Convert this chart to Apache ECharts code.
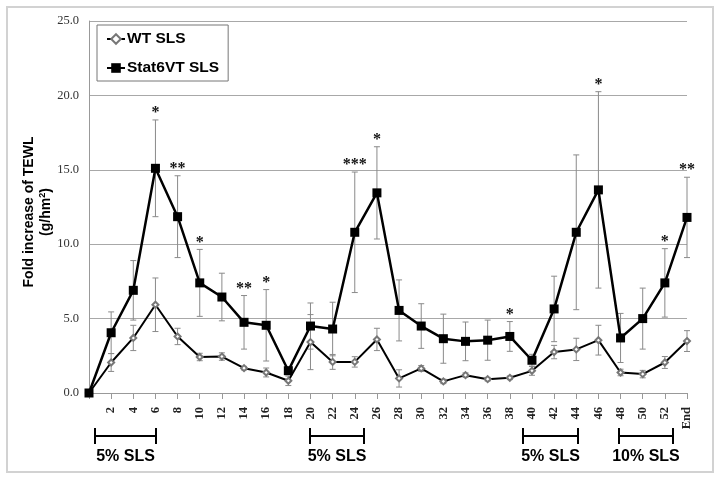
<!DOCTYPE html>
<html>
<head>
<meta charset="utf-8">
<script src="https://cdn.jsdelivr.net/npm/echarts@6/dist/echarts.min.js"></script>
<style>html,body{margin:0;padding:0;background:#fff}#c{width:720px;height:482px}</style>
</head>
<body>
<div id="c"></div>
<script>
const categories = ['0','2','4','6','8','10','12','14','16','18','20','22','24','26','28','30','32','34','36','38','40','42','44','46','48','50','52','End'];
const wtMean   = [0, 2.05, 3.7, 5.93, 3.8, 2.42, 2.45, 1.67, 1.38, 0.82, 3.42, 2.09, 2.09, 3.6, 0.98, 1.65, 0.78, 1.2, 0.93, 1.02, 1.49, 2.75, 2.93, 3.55, 1.38, 1.27, 2.05, 3.49];
const wtErr    = [0, 0.6, 0.85, 1.8, 0.55, 0.25, 0.25, 0.12, 0.3, 0.32, 1.85, 0.5, 0.35, 0.75, 0.58, 0.2, 0.15, 0.15, 0.12, 0.12, 0.3, 0.45, 0.75, 1.0, 0.22, 0.25, 0.4, 0.7];
const statMean = [0, 4.05, 6.9, 15.1, 11.85, 7.4, 6.45, 4.75, 4.55, 1.5, 4.5, 4.3, 10.8, 13.45, 5.55, 4.5, 3.65, 3.47, 3.55, 3.8, 2.2, 5.65, 10.8, 13.65, 3.7, 5.0, 7.4, 11.8];
const statErr  = [0, 1.4, 2.0, 3.25, 2.75, 2.25, 1.6, 1.8, 2.4, 0.2, 1.55, 1.8, 4.05, 3.1, 2.05, 1.5, 1.65, 1.3, 1.35, 1.0, 0.4, 2.2, 5.2, 6.6, 1.65, 2.05, 2.3, 2.7];
const stars    = ['', '', '', '*', '**', '*', '', '**', '*', '', '', '', '***', '*', '', '', '', '', '', '*', '', '', '', '*', '', '', '*', '**'];
const yTicks   = [0, 5, 10, 15, 20, 25];
const seriesNames = ['WT SLS', 'Stat6VT SLS'];
const brackets = [
  {label: '5% SLS'}, {label: '5% SLS'}, {label: '5% SLS'}, {label: '10% SLS'}
];

function errRender(means, errs, marks) {
  return function (params, api) {
    const i = api.value(0);
    const m = means[i], e = errs[i];
    const children = [];
    const top = api.coord([i, m + e]);
    const bot = api.coord([i, m - e]);
    const hw = 3;
    const st = {stroke: '#8a8a8a', lineWidth: 1};
    if (e > 0) {
      children.push({type: 'line', shape: {x1: top[0], y1: top[1], x2: bot[0], y2: bot[1]}, style: st});
      children.push({type: 'line', shape: {x1: top[0] - hw, y1: top[1], x2: top[0] + hw, y2: top[1]}, style: st});
      children.push({type: 'line', shape: {x1: bot[0] - hw, y1: bot[1], x2: bot[0] + hw, y2: bot[1]}, style: st});
    }
    if (marks && marks[i]) {
      children.push({type: 'text', style: {text: marks[i], x: top[0], y: top[1] + 1, align: 'center', verticalAlign: 'bottom', font: 'bold 16px "Liberation Serif"', fill: '#111'}});
    }
    return {type: 'group', children: children};
  };
}

const chart = echarts.init(document.getElementById('c'));
const bx = [[95, 156], [310, 364], [523, 578], [619, 673]];
const graphics = [
  {type: 'rect', shape: {x: 7, y: 7, width: 706, height: 465}, style: {fill: 'none', stroke: '#d2d2d2', lineWidth: 2}, silent: true},
  {type: 'text', x: 38, y: 212, rotation: Math.PI / 2, style: {text: 'Fold increase of TEWL\n(g/hm{sup|2})', align: 'center', verticalAlign: 'middle', font: 'bold 14px "Liberation Sans"', fill: '#000', lineHeight: 17, rich: {sup: {fontSize: 9, fontWeight: 'bold', fontFamily: 'Liberation Sans', verticalAlign: 'top', lineHeight: 17}}}}
];
brackets.forEach((b, k) => {
  const [x1, x2] = bx[k];
  graphics.push({type: 'line', shape: {x1: x1, y1: 436, x2: x2, y2: 436}, style: {stroke: '#000', lineWidth: 2}});
  graphics.push({type: 'line', shape: {x1: x1, y1: 428, x2: x1, y2: 444}, style: {stroke: '#000', lineWidth: 2}});
  graphics.push({type: 'line', shape: {x1: x2, y1: 428, x2: x2, y2: 444}, style: {stroke: '#000', lineWidth: 2}});
  graphics.push({type: 'text', style: {text: b.label, x: (x1 + x2) / 2, y: 457, align: 'center', verticalAlign: 'middle', font: 'bold 16px "Liberation Sans"', fill: '#000'}});
});

chart.setOption({
  animation: false,
  backgroundColor: '#fff',
  grid: {left: 89, right: 33, top: 21, bottom: 89},
  legend: {
    data: seriesNames,
    orient: 'vertical', left: 97, top: 25,
    borderColor: '#777', borderWidth: 1,
    padding: [6, 9, 5, 9],
    itemWidth: 18, itemHeight: 12, itemGap: 13,
    textStyle: {fontFamily: 'Liberation Sans', fontWeight: 'bold', fontSize: 15.5, color: '#000', padding: [0, 0, 0, -3]}
  },
  xAxis: {
    type: 'category', data: categories, boundaryGap: false,
    axisLine: {lineStyle: {color: '#999', width: 1}},
    axisTick: {show: true, length: 6, lineStyle: {color: '#999'}, interval: 0},
    axisLabel: {rotate: 90, interval: 0, margin: 14, fontFamily: 'Liberation Serif', fontWeight: 'bold', fontSize: 12.5, color: '#222',
      formatter: (v, i) => i === 0 ? '' : v}
  },
  yAxis: {
    type: 'value', min: yTicks[0], max: yTicks[yTicks.length - 1], interval: 5,
    axisLine: {show: true, lineStyle: {color: '#999'}},
    axisTick: {show: false},
    splitLine: {lineStyle: {color: '#a8a8a8', width: 1}},
    axisLabel: {margin: 10, fontFamily: 'Liberation Serif', fontSize: 12.5, color: '#333', formatter: v => v.toFixed(1)}
  },
  graphic: graphics,
  series: [
    {type: 'custom', name: 'wtErr', renderItem: errRender(wtMean, wtErr, null), data: wtMean.map((v, i) => [i, v]), z: 1, silent: true, clip: false},
    {type: 'custom', name: 'statErr', renderItem: errRender(statMean, statErr, stars), data: statMean.map((v, i) => [i, v]), z: 1, silent: true, clip: false},
    {type: 'line', name: seriesNames[0], data: wtMean, symbol: 'emptyDiamond', symbolSize: 6, showAllSymbol: true,
      itemStyle: {color: '#777', borderWidth: 1}, lineStyle: {color: '#000', width: 2}, z: 3},
    {type: 'line', name: seriesNames[1], data: statMean, symbol: 'rect', symbolSize: 9, showAllSymbol: true,
      itemStyle: {color: '#000'}, lineStyle: {color: '#000', width: 2.5}, z: 4}
  ]
});
</script>
</body>
</html>
